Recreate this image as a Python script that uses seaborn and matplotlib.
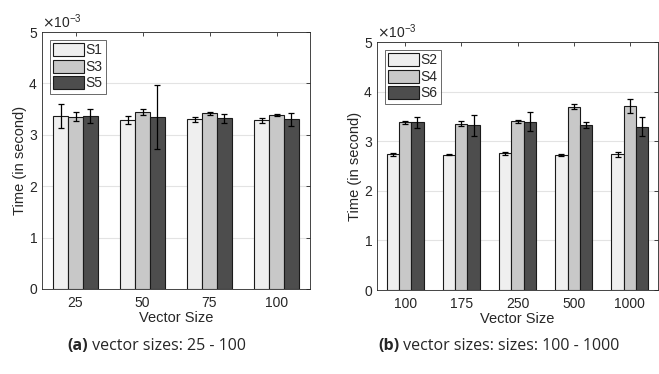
import matplotlib
matplotlib.use("Agg")
import matplotlib.pyplot as plt
import seaborn as sns
import pandas as pd
import numpy as np

# ---- data (milliseconds) ----
sizes_a = ["25", "50", "75", "100"]
series_a = ["S1", "S3", "S5"]
mean_a = {"S1": [3.36, 3.29, 3.30, 3.28],
          "S3": [3.35, 3.45, 3.42, 3.39],
          "S5": [3.36, 3.34, 3.32, 3.31]}
low_a = {"S1": [3.14, 3.21, 3.25, 3.23],
         "S3": [3.27, 3.39, 3.39, 3.37],
         "S5": [3.23, 2.72, 3.22, 3.17]}
high_a = {"S1": [3.59, 3.37, 3.35, 3.33],
          "S3": [3.44, 3.51, 3.44, 3.41],
          "S5": [3.50, 3.96, 3.40, 3.43]}

sizes_b = ["100", "175", "250", "500", "1000"]
series_b = ["S2", "S4", "S6"]
mean_b = {"S2": [2.74, 2.73, 2.76, 2.73, 2.74],
          "S4": [3.38, 3.35, 3.40, 3.69, 3.71],
          "S6": [3.38, 3.32, 3.39, 3.32, 3.29]}
low_b = {"S2": [2.71, 2.72, 2.73, 2.71, 2.69],
         "S4": [3.35, 3.31, 3.37, 3.64, 3.56],
         "S6": [3.27, 3.10, 3.20, 3.26, 3.10]}
high_b = {"S2": [2.77, 2.74, 2.79, 2.75, 2.79],
          "S4": [3.41, 3.40, 3.43, 3.75, 3.86],
          "S6": [3.49, 3.53, 3.58, 3.38, 3.49]}

captions = [("(a)", " vector sizes: 25 - 100"),
            ("(b)", " vector sizes: sizes: 100 - 1000")]

colors = ["#efefef", "#c8c8c8", "#4d4d4d"]

sns.set_style("white")
plt.rcParams["font.family"] = ["Liberation Sans", "DejaVu Sans"]

fig = plt.figure(figsize=(6.59, 3.74), dpi=100)
ax_a = fig.add_axes([42/659, 1-289/374, 268/659, 257/374])
ax_b = fig.add_axes([377/659, 1-290/374, 281/659, 248/374])


def draw(ax, sizes, series, mean, low, high):
    rows = []
    for s in series:
        for i, c in enumerate(sizes):
            rows.append({"size": c, "series": s, "time": mean[s][i] * 1e-3})
    df = pd.DataFrame(rows)
    sns.barplot(data=df, x="size", y="time", hue="series", order=sizes,
                hue_order=series, palette=colors, width=0.66,
                edgecolor="#1a1a1a", linewidth=0.8, errorbar=None, ax=ax,
                saturation=1)
    for cont, s in zip(ax.containers, series):
        xs = [p.get_x() + p.get_width() / 2 for p in cont.patches]
        m = np.array(mean[s]) * 1e-3
        lo = m - np.array(low[s]) * 1e-3
        hi = np.array(high[s]) * 1e-3 - m
        ax.errorbar(xs, m, yerr=[lo, hi], fmt="none", ecolor="black",
                    elinewidth=0.9, capsize=2.5, capthick=0.9, zorder=5)
    ax.set_ylim(0, 5e-3)
    ax.set_xlim(-0.5, len(sizes) - 0.5)
    ax.set_yticks(np.arange(0, 6) * 1e-3)
    ax.ticklabel_format(axis="y", style="sci", scilimits=(0, 0),
                        useMathText=True)
    ax.yaxis.get_offset_text().set_fontsize(10)
    ax.yaxis.get_offset_text().set_color("#262626")
    ax.grid(axis="y", color="#e3e3e3", linewidth=0.8)
    ax.set_axisbelow(True)
    ax.tick_params(direction="in", top=True, right=True, length=3,
                   width=0.6, labelsize=10, colors="#262626",
                   labelcolor="#262626", pad=3)
    ax.tick_params(axis="x", pad=5)
    for sp in ax.spines.values():
        sp.set_color("#262626")
        sp.set_linewidth(0.6)
    ax.set_xlabel("Vector Size", fontsize=10.5, color="#262626", labelpad=1)
    ax.set_ylabel("Time (in second)", fontsize=10.5, color="#262626",
                  labelpad=1)
    leg = ax.legend(loc="upper left", fontsize=10, frameon=True,
                    fancybox=False, handlelength=2.2, handleheight=1.1,
                    handletextpad=0.1, borderpad=0.25, labelspacing=0.15,
                    borderaxespad=0.55)
    leg.get_frame().set_edgecolor("#262626")
    leg.get_frame().set_linewidth(0.6)
    leg.set_title(None)


draw(ax_a, sizes_a, series_a, mean_a, low_a, high_a)
draw(ax_b, sizes_b, series_b, mean_b, low_b, high_b)

cap_font = ["Open Sans", "DejaVu Sans"]
for (b, t), cx in [(captions[0], 157), (captions[1], 499)]:
    tb = fig.text(0, 0, b, fontsize=11.5, fontweight="bold", family=cap_font,
                  va="center")
    tt = fig.text(0, 0, t, fontsize=11.5, family=cap_font, va="center")
    fig.canvas.draw()
    r = fig.canvas.get_renderer()
    wb = tb.get_window_extent(r).width
    wt = tt.get_window_extent(r).width
    x0 = cx - (wb + wt) / 2
    tb.set_position((x0 / 659, 1 - 346/374))
    tt.set_position(((x0 + wb) / 659, 1 - 346/374))

fig.savefig("out.png", dpi=100)
